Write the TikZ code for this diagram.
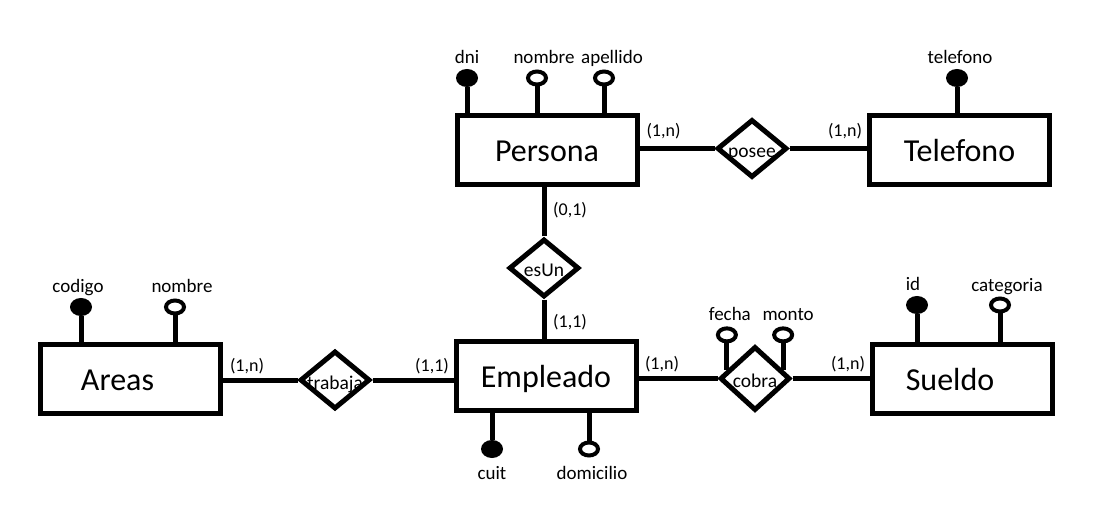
\documentclass[tikz,border=0pt]{standalone}
\usepackage{fontspec}
\setmainfont{Carlito}
\usetikzlibrary{calc,shapes.geometric}

\begin{document}
\begin{tikzpicture}[x=1pt,y=-1pt,line width=5pt,
  entity/.style={draw, minimum width=180pt, minimum height=69pt, text height=23pt, text depth=0pt, font=\fontsize{32}{37}\selectfont},
  rel/.style={draw, diamond, inner sep=0pt, minimum width=70pt, minimum height=58pt, text height=18pt, text depth=0pt, font=\fontsize{19.5}{22}\selectfont},
  keyat/.style={ellipse, fill, inner sep=0pt, outer sep=0pt, minimum width=22pt, minimum height=18pt},
  optat/.style={ellipse, draw, line width=4pt, inner sep=0pt, minimum width=18pt, minimum height=13pt},
  card/.style={inner sep=0pt, font=\fontsize{18}{21}\selectfont},
  every label/.style={inner sep=1pt, text height=13pt, text depth=4pt, font=\fontsize{19}{22}\selectfont},
  label distance=-2pt]
\useasboundingbox (0,0) rectangle (1119,529);

% entidades
\node[entity] (persona) at (547,150.5){Persona};
\node[entity] (telefono) at (959.5,150.5){Telefono};
\node[entity] (areas) at (130.5,379){Areas\hspace*{26pt}};
\node[entity] (empleado) at (546,376){Empleado};
\node[entity] (sueldo) at (962,378.5){Sueldo\hspace*{24pt}};

% relaciones
\node[rel] (posee) at (752,148.5){\makebox[0pt]{posee}};
\node[rel] (esun) at (544,268){\makebox[0pt]{esUn}};
\node[rel] (trabaja) at (335,380){\makebox[0pt]{trabaja}};
\node[rel, minimum height=64pt] (cobra) at (755,378.5){\makebox[0pt]{cobra}};

\draw (posee) -- (posee -| persona.east);
\draw (posee) -- (posee -| telefono.west);
\draw (esun) -- (esun |- persona.south);
\draw (esun) -- (esun |- empleado.north);
\draw (trabaja) -- (trabaja -| areas.east);
\draw (trabaja) -- (trabaja -| empleado.west);
\draw (cobra) -- (cobra -| empleado.east);
\draw (cobra) -- (cobra -| sueldo.west);

% cardinalidades
\node[card] (c1) at (663.5,131){(1,n)};
\node[card] (c2) at (845,131){(1,n)};
\node[card] (c3) at (570,210){(0,1)};
\node[card] (c4) at (570,322){(1,1)};
\node[card] (c5) at (247,366){(1,n)};
\node[card] (c6) at (432,366){(1,1)};
\node[card] (c7) at (662,364){(1,n)};
\node[card] (c8) at (848,364){(1,n)};

% atributos Persona
\node[keyat, label=above:dni] (dni) at (467,78){};
\node[optat, label={[xshift=7pt]above:nombre}] (pnombre) at (537,78){};
\node[optat, label={[xshift=8pt]above:apellido}] (apellido) at (604,78){};
\draw (dni) -- (dni |- persona.north);
\draw (pnombre) -- (pnombre |- persona.north);
\draw (apellido) -- (apellido |- persona.north);

% atributos Telefono
\node[keyat, label={[xshift=3pt]above:telefono}] (tnum) at (957,78){};
\draw (tnum) -- (tnum |- telefono.north);

% atributos Areas
\node[keyat, label={[xshift=-3pt]above:codigo}] (codigo) at (81,307){};
\node[optat, label={[xshift=7pt]above:nombre}] (anombre) at (175,307){};
\draw (codigo) -- (codigo |- areas.north);
\draw (anombre) -- (anombre |- areas.north);

% atributos Sueldo
\node[keyat, label={[xshift=-4pt]above:id}] (sid) at (917,305){};
\node[optat, label={[xshift=7pt]above:categoria}] (categoria) at (1000,305){};
\draw (sid) -- (sid |- sueldo.north);
\draw (categoria) -- (categoria |- sueldo.north);

% atributos Empleado
\node[keyat, label={[label distance=5pt]below:cuit}] (cuit) at (492,449){};
\node[optat, label={[label distance=5pt, xshift=3pt]below:domicilio}] (domicilio) at (589,449){};
\draw (cuit) -- (cuit |- empleado.south);
\draw (domicilio) -- (domicilio |- empleado.south);

% atributos cobra
\coordinate (fechaPie) at ($(cobra.west)!0.25!(cobra.north)$);
\coordinate (montoPie) at ($(cobra.north)!0.75!(cobra.east)$);
\node[optat, label={[xshift=3pt]above:fecha}] (fecha) at ($(fechaPie)+(0,-35)$){};
\node[optat, label={[xshift=5pt]above:monto}] (monto) at ($(montoPie)+(0,-35)$){};
\draw (fecha) -- (fechaPie);
\draw (monto) -- (montoPie);
\end{tikzpicture}
\end{document}
